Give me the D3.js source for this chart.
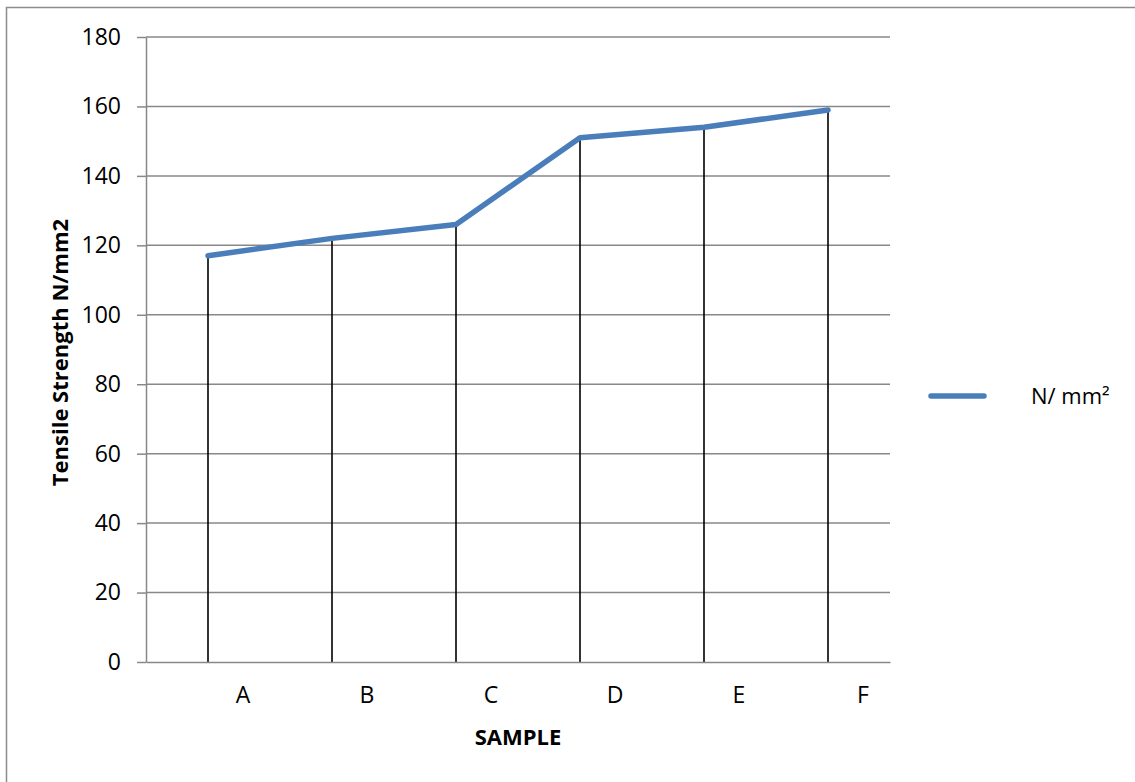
<!DOCTYPE html>
<html>
<head>
<meta charset="utf-8">
<script src="https://cdn.jsdelivr.net/npm/d3@7"></script>
<style>
  html, body { margin: 0; padding: 0; background: #fff; }
  svg { display: block; }
</style>
</head>
<body>
<svg id="chart" width="1135" height="782"></svg>
<script>
const categories = ["A", "B", "C", "D", "E", "F"];
const tensileValues = [117, 122, 126, 151, 154, 159];
const yTicks = [0, 20, 40, 60, 80, 100, 120, 140, 160, 180];
const seriesName = "N/ mm\u00B2";
const yTitle = "Tensile Strength N/mm2";
const xTitle = "SAMPLE";

const svg = d3.select("#chart");
const font = "'Open Sans', 'Noto Sans', sans-serif";
const plot = { left: 146, right: 890, top: 37, bottom: 662 };

// outer border
svg.append("rect")
  .attr("x", 6.5).attr("y", 7.5)
  .attr("width", 1140).attr("height", 800)
  .attr("fill", "none").attr("stroke", "#8c8c8c").attr("stroke-width", 1.5);

const x = d3.scaleBand().domain(categories).range([plot.left, plot.right]);
const y = d3.scaleLinear().domain([0, 180]).range([plot.bottom, plot.top]);

// gridlines
svg.append("g").selectAll("line")
  .data(yTicks.filter(d => d !== 0))
  .join("line")
  .attr("x1", plot.left).attr("x2", plot.right)
  .attr("y1", d => y(d)).attr("y2", d => y(d))
  .attr("stroke", "#888").attr("stroke-width", 1.5);

// y axis
const yAxis = svg.append("g")
  .attr("transform", `translate(${plot.left},0)`)
  .call(d3.axisLeft(y).tickValues(yTicks).tickSize(9).tickPadding(16).tickSizeOuter(0));
yAxis.attr("font-size", null);
yAxis.select(".domain").attr("stroke", "#888").attr("stroke-width", 1.5);
yAxis.selectAll(".tick line").attr("stroke", "#888").attr("stroke-width", 1.5);
yAxis.selectAll(".tick text")
  .attr("font-family", font).attr("font-size", 23).attr("fill", "#000");

// drop lines
svg.append("g").selectAll("line")
  .data(categories)
  .join("line")
  .attr("x1", (d) => x(d) + x.bandwidth() / 2)
  .attr("x2", (d) => x(d) + x.bandwidth() / 2)
  .attr("y1", (d, i) => y(tensileValues[i]))
  .attr("y2", y(0))
  .attr("stroke", "#000").attr("stroke-width", 1.6);

// x axis
const xAxis = svg.append("g")
  .attr("transform", `translate(0,${plot.bottom})`)
  .call(d3.axisBottom(x).tickSize(0).tickPadding(25).tickSizeOuter(0));
xAxis.attr("font-size", null);
xAxis.select(".domain").attr("stroke", "#888").attr("stroke-width", 1.5);
xAxis.selectAll(".tick text")
  .attr("font-family", font).attr("font-size", 23).attr("fill", "#000")
  .attr("dx", 35);

// line
const line = d3.line()
  .x((d, i) => x(categories[i]) + x.bandwidth() / 2)
  .y(d => y(d));
svg.append("path")
  .datum(tensileValues)
  .attr("d", line)
  .attr("fill", "none")
  .attr("stroke", "#4a7ebb")
  .attr("stroke-width", 5.5)
  .attr("stroke-linejoin", "round")
  .attr("stroke-linecap", "round");

// axis titles
svg.append("text")
  .attr("x", (plot.left + plot.right) / 2).attr("y", 745)
  .attr("text-anchor", "middle")
  .attr("font-family", font).attr("font-size", 22).attr("font-weight", "bold")
  .text(xTitle);

svg.append("text")
  .attr("transform", `translate(68,${(plot.top + plot.bottom) / 2 + 3}) rotate(-90)`)
  .attr("text-anchor", "middle")
  .attr("font-family", font).attr("font-size", 22).attr("font-weight", "bold")
  .text(yTitle);

// legend
const lg = svg.append("g");
lg.append("line")
  .attr("x1", 931).attr("x2", 984).attr("y1", 396).attr("y2", 396)
  .attr("stroke", "#4a7ebb").attr("stroke-width", 5.5).attr("stroke-linecap", "round");
lg.append("text")
  .attr("x", 1031).attr("y", 404)
  .attr("font-family", font).attr("font-size", 22).attr("fill", "#000")
  .text(seriesName);
</script>
</body>
</html>
